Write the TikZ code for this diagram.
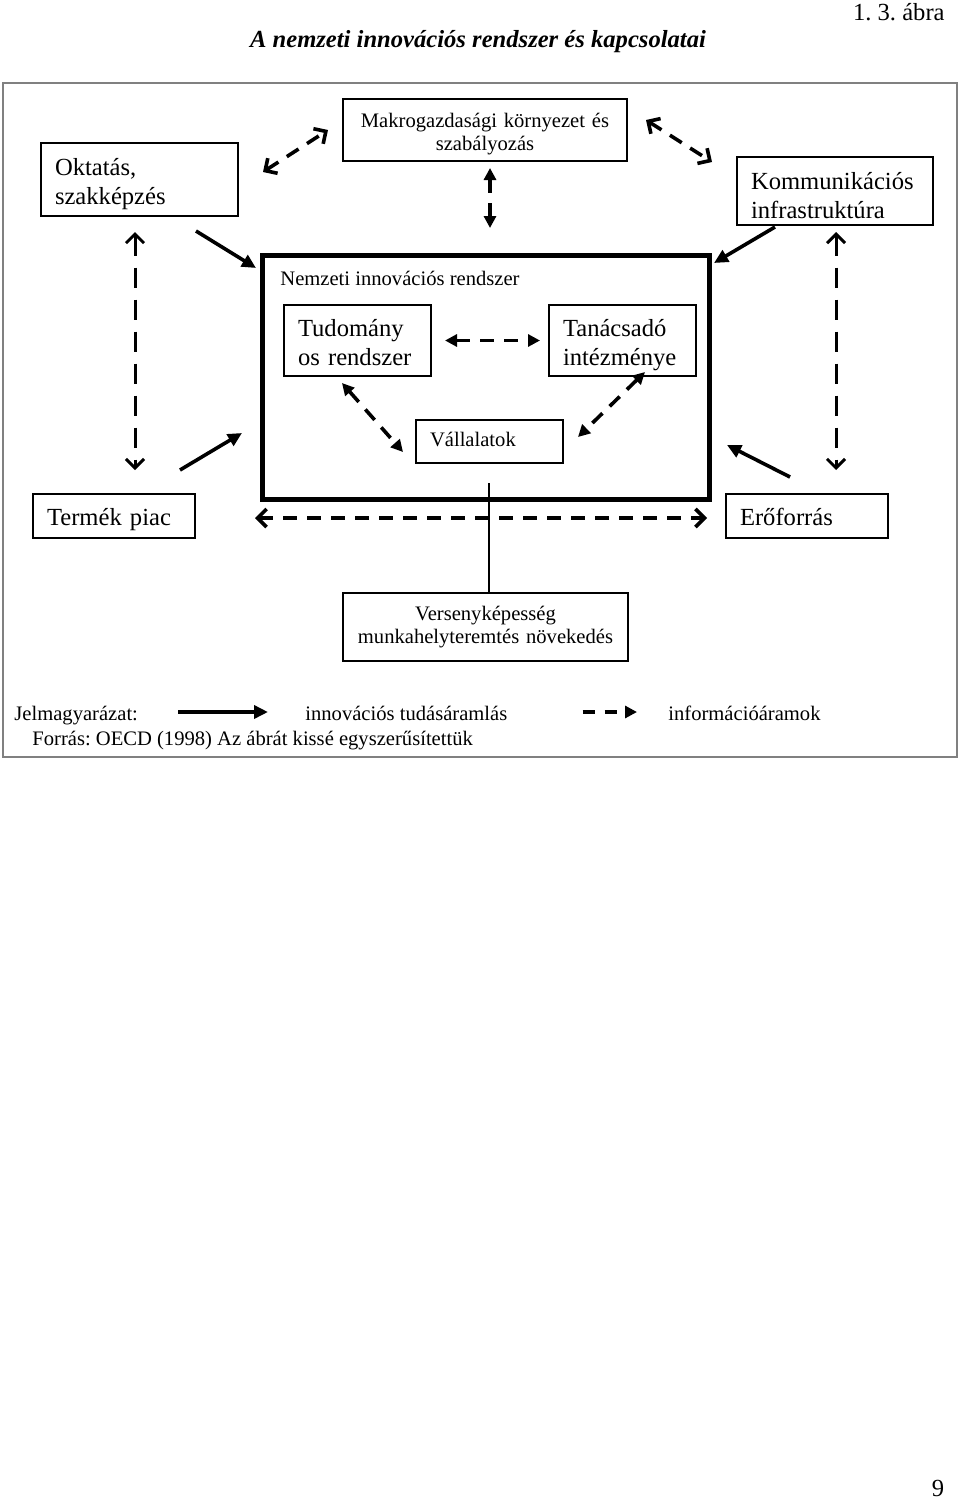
\documentclass[tikz,border=0pt]{standalone}
\usepackage{fontspec}
\setmainfont{Liberation Serif}
\usetikzlibrary{arrows.meta}
\frenchspacing
\newcommand{\nagybetu}{\fontsize{12.3}{14.5}\selectfont}
\newcommand{\kisbetu}{\fontsize{10.3}{11.8}\selectfont}
\tikzset{
  doboz/.style={draw, line width=1pt, outer sep=0pt, inner xsep=7pt, inner ysep=0pt, align=left, font=\nagybetu},
  felirat/.style={anchor=base west, font=\kisbetu, inner sep=0pt},
  tudas/.style={line width=1.8pt, -{Triangle[length=7pt,width=6.5pt]}},
  info/.style={line width=1.8pt, dash pattern=on 7pt off 5pt, {Triangle[length=6pt,width=6pt]}-{Triangle[length=6pt,width=6pt]}},
  infoh/.style={line width=1.8pt, dash pattern=on 7pt off 5pt, {Straight Barb[length=4.5pt,width=9pt]}-{Straight Barb[length=4.5pt,width=9pt]}},
  infov/.style={infoh, line width=1.5pt, dash pattern=on 10pt off 6pt},
}
\begin{document}
\begin{tikzpicture}[x=0.5pt, y=-0.5pt]
  \useasboundingbox (0,0) rectangle (960,1499);
  % cím
  \node[anchor=base east, font=\nagybetu, inner sep=0pt] (abra) at (945,20) {1. 3. ábra};
  \node[anchor=base, font=\nagybetu\bfseries\itshape, inner sep=0pt] (cim) at (478,47) {A nemzeti innovációs rendszer és kapcsolatai};
  \draw[gray, line width=0.75pt] (3,83) rectangle (957,757);

  % dobozok
  \node[doboz, align=center, text width=132pt, inner xsep=5pt, minimum height=31pt, font=\kisbetu, text height=7.3pt, text depth=10pt] (mak) at (485,130) {Makrogazdasági környezet és\\szabályozás};
  \node[doboz, text width=84.5pt, minimum height=36.5pt, text height=6.2pt, text depth=10pt] (okt) at (139.5,179.5) {Oktatás,\\szakképzés};
  \node[doboz, text width=84pt, minimum height=34pt, text height=8.7pt, text depth=10pt] (kom) at (835,191) {Kommunikációs\\infrastruktúra};
  \node[draw, line width=2.5pt, outer sep=0pt, minimum width=223.5pt, minimum height=122pt] (nis) at (485.5,377) {};
  \node[felirat] (nislab) at (280,285) {Nemzeti innovációs rendszer};
  \node[doboz, text width=59.5pt, minimum height=35.5pt, text height=6.2pt, text depth=10pt] (tud) at (357.5,340.5) {Tudomány\\os rendszer};
  \node[doboz, text width=59.5pt, minimum height=35.5pt, text height=6.2pt, text depth=10pt] (tan) at (622.5,340.5) {Tanácsadó\\intézménye};
  \node[doboz, text width=59.5pt, minimum height=21.5pt, font=\kisbetu, text height=9.8pt, text depth=5pt] (val) at (489.5,441.5) {Vállalatok};
  \node[doboz, text width=67pt, minimum height=22pt, text height=14.7pt, text depth=5pt] (ter) at (114,516) {Termék piac};
  \node[doboz, text width=67pt, minimum height=22pt, text height=14.7pt, text depth=5pt] (ero) at (807,516) {Erőforrás};
  \node[doboz, align=center, text width=134.5pt, inner xsep=4pt, minimum height=34pt, font=\kisbetu, text height=3.3pt, text depth=10pt] (ver) at (485.5,627) {Versenyképesség\\munkahelyteremtés növekedés};

  % információáramok
  \draw[infoh] ([shift={(25,-7.5)}]okt.east) -- ([shift={(-15,0)}]mak.west);
  \draw[infoh] ([shift={(19,-10)}]mak.east) -- ([shift={(-25,5)}]kom.north west);
  \draw[info] ([shift={(5,7)}]mak.south) -- ([shift={(4.5,-27)}]nis.north);
  \draw[infov] ([shift={(-4.5,16)}]okt.south) -- ([shift={(21,-24)}]ter.north);
  \draw[infov] ([shift={(1,7)}]kom.south) -- ([shift={(29,-24)}]ero.north);
  \draw[info] ([shift={(14,0)}]tud.east) -- ([shift={(-9,0)}]tan.west);
  \draw[info] ([shift={(-15.5,7)}]tud.south) -- ([shift={(-13,10.5)}]val.west);
  \draw[info] ([shift={(22.5,-4)}]tan.south) -- ([shift={(15,-4.5)}]val.east);
  \draw[infoh] ([shift={(60,2)}]ter.east) -- ([shift={(-19,2)}]ero.west);

  % tudásáramlás
  \draw[tudas] ([shift={(56.5,15)}]okt.south) -- ([shift={(-6,13)}]nis.north west);
  \draw[tudas] ([shift={(-60,2)}]kom.south) -- ([shift={(5,8)}]nis.north east);
  \draw[tudas] ([shift={(66,-24)}]ter.north) -- ([shift={(-20,-66)}]nis.south west);
  \draw[tudas] ([shift={(-17,-17)}]ero.north) -- ([shift={(18,-54)}]nis.south east);
  \draw[line width=1pt] ([shift={(3.5,-16)}]nis.south) -- ([shift={(3.5,0)}]ver.north);

  % jelmagyarázat
  \node[felirat] (jel) at (14,720) {Jelmagyarázat:};
  \node[felirat] (inn) at (305,720) {innovációs tudásáramlás};
  \node[felirat] (inf) at (668,720) {információáramok};
  \node[felirat] (forr) at (32,745) {Forrás: OECD (1998) Az ábrát kissé egyszerűsítettük};
  \draw[tudas] ([shift={(40,-8)}]jel.base east) -- ([shift={(-37,-8)}]inn.base west);
  \draw[line width=1.8pt, dash pattern=on 6pt off 5pt, -{Triangle[length=6pt,width=6pt]}] ([shift={(75,-8)}]inn.base east) -- ([shift={(-31,-8)}]inf.base west);

  \node[anchor=base, font=\nagybetu, inner sep=0pt] (oldal) at (938,1496) {9};
\end{tikzpicture}
\end{document}
